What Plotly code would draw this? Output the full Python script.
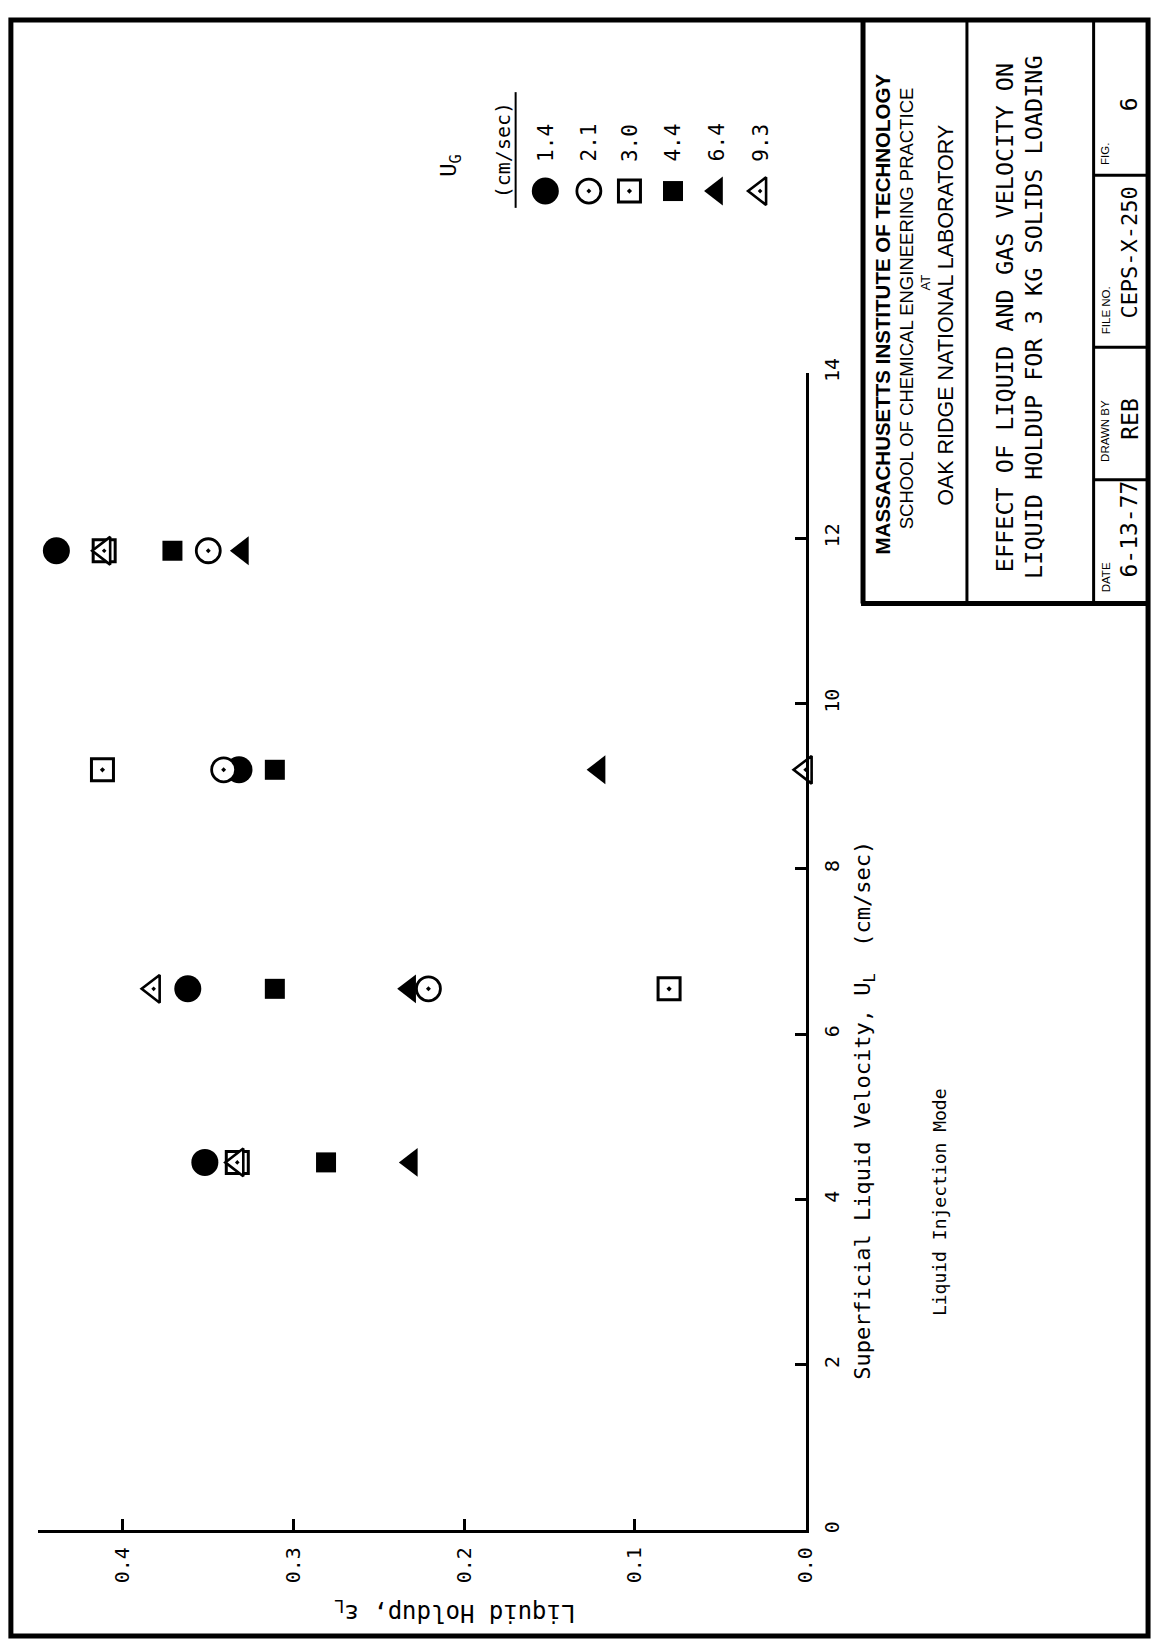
import plotly.graph_objects as go

# ---------------- data ----------------
ug_labels = ["1.4", "2.1", "3.0", "4.4", "6.4", "9.3"]   # U_G (cm/sec)

ul_ug14 = [4.45, 6.55, 9.2, 11.85]
eps_ug14 = [0.352, 0.362, 0.332, 0.439]

ul_ug21 = [6.55, 9.2, 11.85]
eps_ug21 = [0.221, 0.341, 0.350]

ul_ug30 = [4.45, 6.55, 9.2, 11.85]
eps_ug30 = [0.333, 0.080, 0.412, 0.411]

ul_ug44 = [4.45, 6.55, 9.2, 11.85]
eps_ug44 = [0.281, 0.311, 0.311, 0.371]

ul_ug64 = [4.45, 6.55, 9.2, 11.85]
eps_ug64 = [0.231, 0.232, 0.121, 0.330]

ul_ug93 = [4.45, 6.55, 9.2, 11.85]
eps_ug93 = [0.333, 0.382, 0.000, 0.411]

ul_ticks = [0, 2, 4, 6, 8, 10, 12, 14]
eps_ticks = [0.0, 0.1, 0.2, 0.3, 0.4]
eps_tick_text = ["0.0", "0.1", "0.2", "0.3", "0.4"]

# ---------------- page geometry (pixels) ----------------
W, H = 1165, 1643
PX_LEFT, PX_RIGHT = 38, 814      # holdup axis: 0.45 .. 0.0
PX_BOTTOM, PX_TOP = 1532, 362    # UL axis: 0 .. 14
MONO = "DejaVu Sans Mono"
SANS = "Liberation Sans"

fig = go.Figure()

# marker styles per series (triangles point "up" in the rotated page = left)
styles = {
    "1.4": dict(symbol="circle", size=27, color="black", line=dict(width=0)),
    "4.4": dict(symbol="square", size=20, color="black", line=dict(width=0)),
    "6.4": dict(symbol="triangle-left", size=25, color="black", line=dict(width=0)),
    "3.0": dict(symbol="square-dot", size=22, color="white", line=dict(width=3, color="black")),
    "9.3": dict(symbol="triangle-left-dot", size=24, color="white", line=dict(width=2.6, color="black")),
    "2.1": dict(symbol="circle-dot", size=24, color="white", line=dict(width=2.8, color="black")),
}
series = {
    "1.4": (ul_ug14, eps_ug14),
    "4.4": (ul_ug44, eps_ug44),
    "6.4": (ul_ug64, eps_ug64),
    "3.0": (ul_ug30, eps_ug30),
    "9.3": (ul_ug93, eps_ug93),
    "2.1": (ul_ug21, eps_ug21),
}
for key in ["1.4", "4.4", "6.4", "3.0", "9.3", "2.1"]:
    ul, eps = series[key]
    fig.add_trace(go.Scatter(x=eps, y=ul, mode="markers", marker=styles[key],
                             cliponaxis=False, name=key, showlegend=False,
                             xaxis="x", yaxis="y"))

# legend symbols (drawn on a pixel-based overlay axis)
leg_x = [551, 595, 636, 680, 724, 768]
leg_sym_y = 178
for key, lx in zip(ug_labels, leg_x):
    fig.add_trace(go.Scatter(x=[lx], y=[leg_sym_y], mode="markers", marker=styles[key],
                             cliponaxis=False, showlegend=False, xaxis="x2", yaxis="y2"))

axis_common = dict(showline=True, linewidth=3, linecolor="black", ticks="inside",
                   ticklen=11, tickwidth=3, tickcolor="black", showgrid=False,
                   zeroline=False, tickangle=-90, fixedrange=True,
                   tickfont=dict(family=MONO, size=20, color="black"))

fig.update_layout(
    width=W, height=H, autosize=False,
    margin=dict(l=0, r=0, t=0, b=0, pad=0),
    paper_bgcolor="white", plot_bgcolor="rgba(0,0,0,0)",
    showlegend=False,
    xaxis=dict(domain=[PX_LEFT / W, PX_RIGHT / W], range=[0.45, 0.0], anchor="y",
               side="bottom", tickvals=eps_ticks, ticktext=eps_tick_text,
               ticklabelstandoff=6, **axis_common),
    yaxis=dict(domain=[(H - PX_BOTTOM) / H, (H - PX_TOP) / H], range=[0, 14], anchor="x",
               side="right", tickvals=ul_ticks, ticklabelstandoff=6, **axis_common),
    xaxis2=dict(domain=[0, 1], range=[0, W], visible=False, anchor="y2", fixedrange=True),
    yaxis2=dict(domain=[0, 1], range=[H, 0], visible=False, anchor="x2", fixedrange=True),
)

# ---------------- shapes: page border, title block, legend rule ----------------
def line(x0, y0, x1, y1, w):
    fig.add_shape(type="line", x0=x0, y0=y0, x1=x1, y1=y1, xref="x2", yref="y2",
                  line=dict(color="black", width=w))

fig.add_shape(type="rect", x0=11, y0=5, x1=1160, y1=1639, xref="x2", yref="y2",
              line=dict(color="black", width=5))
line(872, 5, 872, 595, 5)
line(870, 595, 1160, 595, 5)
line(977, 5, 977, 595, 3)
line(1105, 5, 1105, 595, 3)
line(1105, 470, 1160, 470, 3)
line(1105, 336, 1160, 336, 3)
line(1105, 162, 1160, 162, 3)
line(521, 78, 521, 195, 2)

# ---------------- text ----------------
def txt(x, y, s, size, family=MONO, angle=-90, bold=False):
    fig.add_annotation(x=x, y=y, xref="x2", yref="y2", text=(f"<b>{s}</b>" if bold else s),
                       showarrow=False, textangle=angle, xanchor="center", yanchor="middle",
                       font=dict(family=family, size=size, color="black"))

# axis titles
txt(874, 1108, "Superficial Liquid Velocity, U<sub>L</sub>  (cm/sec)", 22)
txt(950, 1200, "Liquid Injection Mode", 18)
txt(460, 1614, "Liquid Holdup, \u03b5<sub>L</sub>", 24, angle=180)

# legend
txt(455, 152, "U<sub>G</sub>", 22)
txt(508, 137, "(cm/sec)", 20)
for lab, lx in zip(ug_labels, leg_x):
    txt(lx, 129, lab, 21)

# title block
txt(892, 302, "MASSACHUSETTS INSTITUTE OF TECHNOLOGY", 20.5, family=SANS, bold=True)
txt(916, 297, "SCHOOL OF CHEMICAL ENGINEERING PRACTICE", 18.5, family=SANS)
txt(935, 270, "AT", 13, family=SANS)
txt(956, 304, "OAK RIDGE NATIONAL LABORATORY", 21.5, family=SANS)
txt(1015, 306, "EFFECT OF LIQUID AND GAS VELOCITY ON", 23.5)
txt(1044, 306, "LIQUID HOLDUP FOR 3 KG SOLIDS LOADING", 23.5)
txt(1117, 568, "DATE", 11.5, family=SANS)
txt(1141, 520, "6-13-77", 23)
txt(1117, 420, "DRAWN BY", 11.5, family=SANS)
txt(1141, 408, "REB", 23)
txt(1117, 298, "FILE NO.", 11.5, family=SANS)
txt(1141, 240, "CEPS-X-250", 22)
txt(1117, 140, "FIG.", 11.5, family=SANS)
txt(1141, 90, "6", 23)

fig.write_html("out.html",
               config={"displayModeBar": False},
               post_script="document.body.style.margin='0px';"
                           "document.body.style.overflow='hidden';")
